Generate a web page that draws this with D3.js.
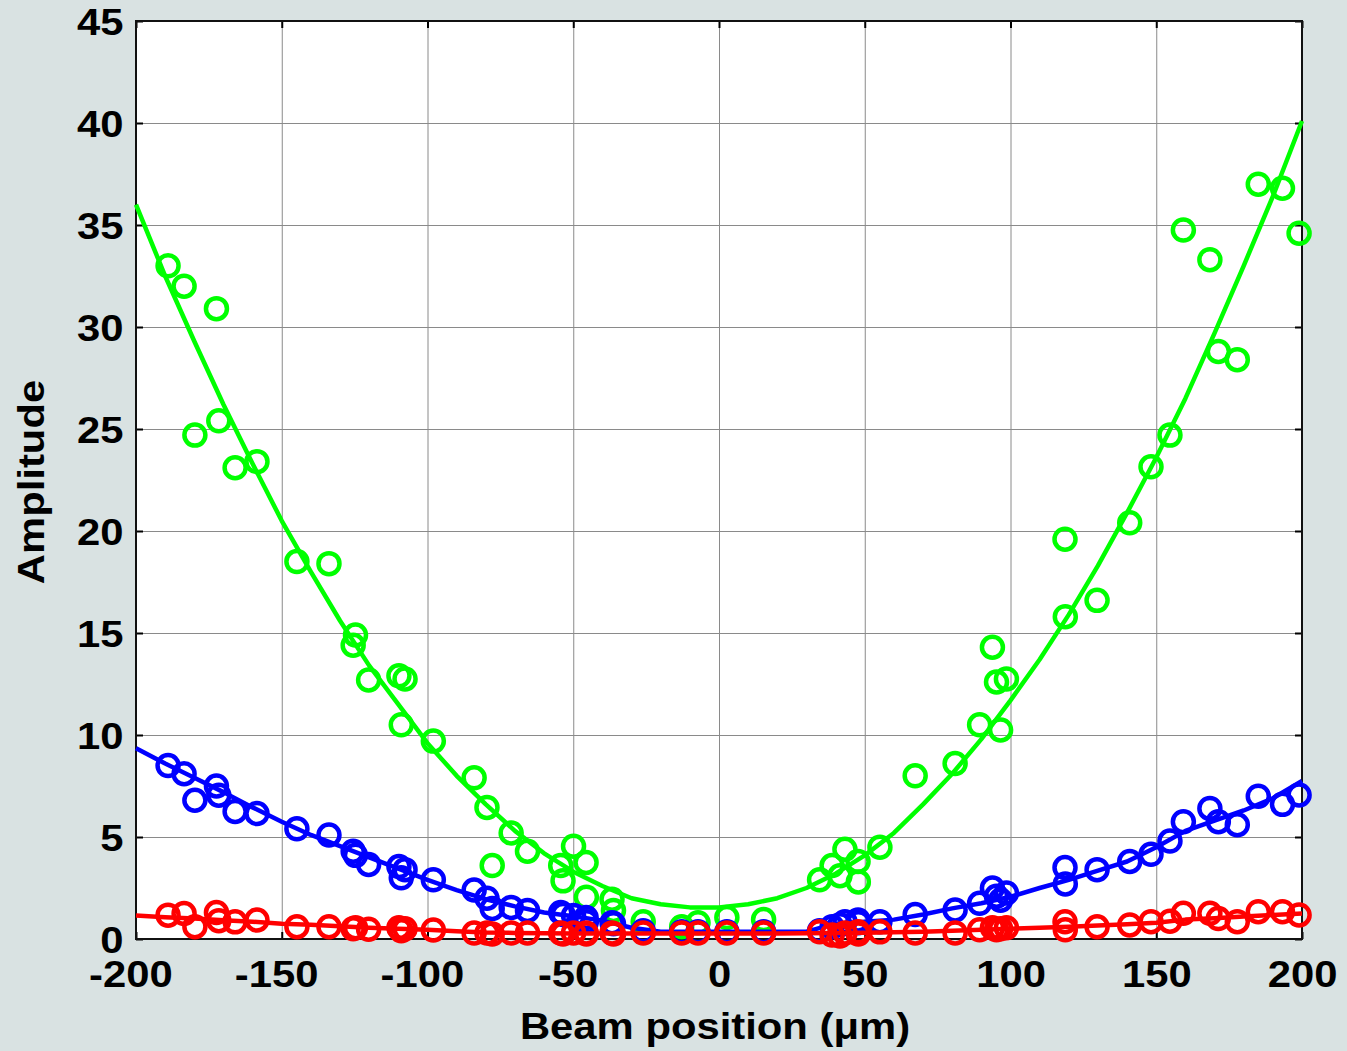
<!DOCTYPE html>
<html>
<head>
<meta charset="utf-8">
<script src="https://cdn.jsdelivr.net/npm/d3@7"></script>
<style>
  html, body { margin: 0; padding: 0; background: #d9e2e2; }
  svg { display: block; }
  text { font-family: "Liberation Sans", Arial, sans-serif; font-weight: bold; fill: #000; }
</style>
</head>
<body>
<svg id="chart" width="1347" height="1051"></svg>
<script>
// Beam positions (µm) shared by the three measured harmonics
const positions = [
  -189.0, -183.5, -179.8, -172.4, -171.6, -166.0, -158.5, -144.8, -133.8, -125.5,
  -124.7, -120.2, -109.8, -107.7, -109.0, -98.0, -84.0, -79.6, -77.8, -71.3,
  -65.7, -54.3, -53.5, -49.9, -45.6, -45.5, -36.7, -36.2, -26.0, -12.8,
  -7.2, 2.7, 15.3, 34.5, 38.8, 43.2, 41.5, 47.7, 47.8, 55.2,
  67.3, 81.0, 89.4, 93.8, 95.2, 96.6, 98.6, 118.7, 118.8, 129.7,
  140.9, 148.2, 154.7, 159.3, 168.4, 171.3, 177.8, 185.0, 193.3, 199.0
];
const greenAmp = [
  33.0, 32.0, 24.7, 30.9, 25.4, 23.1, 23.4, 18.5, 18.4, 14.4,
  14.9, 12.7, 12.9, 12.75, 10.5, 9.7, 7.9, 6.45, 3.6, 5.2,
  4.3, 3.6, 2.85, 4.55, 3.75, 2.05, 1.95, 1.4, 0.85, 0.6,
  0.8, 1.05, 0.95, 2.9, 3.6, 4.4, 3.1, 3.8, 2.8, 4.5,
  8.0, 8.6, 10.5, 14.3, 12.6, 10.25, 12.75, 19.6, 15.8, 16.6,
  20.4, 23.15, 24.7, 34.75, 33.3, 28.8, 28.4, 37.0, 36.8, 34.6
];
const blueAmp = [
  8.5, 8.1, 6.8, 7.5, 7.05, 6.25, 6.15, 5.4, 5.1, 4.3,
  4.1, 3.65, 3.55, 3.4, 3.0, 2.9, 2.4, 2.0, 1.5, 1.55,
  1.4, 1.3, 1.2, 1.15, 1.05, 0.85, 0.8, 0.75, 0.4, 0.35,
  0.35, 0.35, 0.35, 0.4, 0.6, 0.85, 0.7, 0.93, 0.8, 0.85,
  1.2, 1.42, 1.75, 2.5, 2.1, 1.9, 2.25, 3.5, 2.7, 3.4,
  3.8, 4.15, 4.8, 5.75, 6.4, 5.75, 5.6, 7.0, 6.6, 7.06
];
const redAmp = [
  1.17, 1.25, 0.6, 1.3, 0.9, 0.84, 0.93, 0.6, 0.6, 0.5,
  0.55, 0.48, 0.55, 0.5, 0.4, 0.44, 0.29, 0.29, 0.25, 0.3,
  0.3, 0.3, 0.25, 0.3, 0.3, 0.25, 0.3, 0.25, 0.3, 0.3,
  0.3, 0.3, 0.3, 0.36, 0.2, 0.3, 0.15, 0.35, 0.25, 0.35,
  0.3, 0.3, 0.45, 0.55, 0.45, 0.5, 0.55, 0.85, 0.45, 0.6,
  0.69, 0.85, 0.87, 1.26, 1.26, 1.0, 0.85, 1.34, 1.34, 1.18
];

// Fitted curves
const fitX = [
  -200, -190, -180, -170, -160, -150, -140, -130, -120, -110, -100, -90, -80, -70,
  -60, -50, -40, -30, -20, -10, 0, 10, 20, 30, 40, 50, 60, 70, 80, 90,
  100, 110, 120, 130, 140, 150, 160, 170, 180, 190, 200
];
const greenFit = [
  36.0, 32.5, 29.3, 26.2, 23.3, 20.5, 18.0, 15.6, 13.4, 11.5, 9.6, 8.0, 6.6, 5.3,
  4.2, 3.3, 2.6, 2.0, 1.7, 1.55, 1.55, 1.7, 2.0, 2.5, 3.2, 4.1, 5.2, 6.6, 8.1, 9.8,
  11.7, 13.7, 15.9, 18.3, 20.9, 23.6, 26.5, 29.7, 33.0, 36.4, 40.1
];
const blueFit = [
  9.35, 8.6, 7.9, 7.2, 6.45, 5.75, 5.1, 4.55, 4.0, 3.45, 2.9, 2.4, 1.95, 1.6,
  1.3, 1.12, 0.9, 0.55, 0.36, 0.35, 0.35, 0.35, 0.35, 0.36, 0.75, 0.85, 0.95, 1.2, 1.5, 1.75,
  2.07, 2.5, 2.9, 3.35, 3.8, 4.5, 5.3, 5.8, 6.3, 6.9, 7.75
];
const redFit = [
  1.15, 1.07, 1.0, 0.92, 0.85, 0.75, 0.7, 0.62, 0.55, 0.5, 0.45, 0.38, 0.32, 0.3,
  0.28, 0.27, 0.27, 0.27, 0.27, 0.27, 0.27, 0.27, 0.27, 0.28, 0.3, 0.31, 0.33, 0.36, 0.4, 0.45,
  0.5, 0.55, 0.6, 0.66, 0.72, 0.8, 0.95, 1.02, 1.1, 1.18, 1.25
];

const xTicks = [-200, -150, -100, -50, 0, 50, 100, 150, 200];
const yTicks = [0, 5, 10, 15, 20, 25, 30, 35, 40, 45];

const series = [
  { name: "green", color: "#00ff00", amp: greenAmp, fit: greenFit },
  { name: "blue",  color: "#0000ff", amp: blueAmp,  fit: blueFit },
  { name: "red",   color: "#ff0000", amp: redAmp,   fit: redFit }
];

const plot = { left: 136, right: 1302, top: 21, bottom: 939 };
const x = d3.scaleLinear().domain([-200, 200]).range([plot.left, plot.right]);
const y = d3.scaleLinear().domain([0, 45]).range([plot.bottom, plot.top]);

const svg = d3.select("#chart");
const stretch = "scale(1.13,1)";

// plot background
svg.append("rect")
  .attr("x", plot.left).attr("y", plot.top)
  .attr("width", plot.right - plot.left).attr("height", plot.bottom - plot.top)
  .attr("fill", "#fff");

// grid
const grid = svg.append("g").attr("stroke", "#8a8a8a").attr("stroke-width", 1);
grid.selectAll(".gx").data(xTicks).join("line")
  .attr("x1", d => x(d) + 0.5).attr("x2", d => x(d) + 0.5)
  .attr("y1", plot.top).attr("y2", plot.bottom);
grid.selectAll(".gy").data(yTicks).join("line")
  .attr("y1", d => y(d) + 0.5).attr("y2", d => y(d) + 0.5)
  .attr("x1", plot.left).attr("x2", plot.right);

// axes with inward ticks on all four sides; labels use a plain hyphen for negatives
const tickLen = 7;
const fmt = d => String(d);
const xAxisB = svg.append("g").attr("transform", `translate(0,${plot.bottom})`)
  .call(d3.axisBottom(x).tickValues(xTicks).tickSizeInner(-tickLen).tickSizeOuter(0).tickPadding(22).tickFormat(fmt));
const xAxisT = svg.append("g").attr("transform", `translate(0,${plot.top})`)
  .call(d3.axisTop(x).tickValues(xTicks).tickSizeInner(-tickLen).tickSizeOuter(0).tickFormat(""));
const yAxisL = svg.append("g").attr("transform", `translate(${plot.left},0)`)
  .call(d3.axisLeft(y).tickValues(yTicks).tickSizeInner(-tickLen).tickSizeOuter(0).tickPadding(11).tickFormat(fmt));
const yAxisR = svg.append("g").attr("transform", `translate(${plot.right},0)`)
  .call(d3.axisRight(y).tickValues(yTicks).tickSizeInner(-tickLen).tickSizeOuter(0).tickFormat(""));

[xAxisB, xAxisT, yAxisL, yAxisR].forEach(a => {
  a.select(".domain").remove();
  a.selectAll(".tick line").attr("stroke", "#000").attr("stroke-width", 2);
});

xAxisB.selectAll(".tick text")
  .attr("font-size", 37).attr("fill", "#000")
  .attr("dy", "0.71em")
  .attr("x", d => d < 0 ? -5 : 0)
  .attr("transform", stretch);
yAxisL.selectAll(".tick text")
  .attr("font-size", 37).attr("fill", "#000")
  .attr("dy", "0.36em")
  .attr("transform", stretch);
svg.selectAll(".tick text").style("font-family", '"Liberation Sans", Arial, sans-serif').style("font-weight", "bold");

// frame
svg.append("rect")
  .attr("x", plot.left).attr("y", plot.top)
  .attr("width", plot.right - plot.left).attr("height", plot.bottom - plot.top)
  .attr("fill", "none").attr("stroke", "#111").attr("stroke-width", 2);

// axis titles
svg.append("text")
  .attr("transform", `translate(715,1039) ${stretch}`)
  .attr("text-anchor", "middle").attr("font-size", 37)
  .text("Beam position (\u03bcm)");
svg.append("text")
  .attr("transform", `translate(44,482) rotate(-90) ${stretch}`)
  .attr("text-anchor", "middle").attr("font-size", 37)
  .text("Amplitude");

// data: measured points and fitted curves
const line = d3.line().x((d, i) => x(fitX[i])).y(d => y(d));
series.forEach(s => {
  const g = svg.append("g").attr("class", "series-" + s.name);
  g.selectAll("circle").data(s.amp).join("circle")
    .attr("cx", (d, i) => x(positions[i]))
    .attr("cy", d => y(d))
    .attr("r", 10.5)
    .attr("fill", "none")
    .attr("stroke", s.color)
    .attr("stroke-width", 4.5);
  g.append("path")
    .datum(s.fit)
    .attr("d", line)
    .attr("fill", "none")
    .attr("stroke", s.color)
    .attr("stroke-width", 4.5)
    .attr("stroke-linejoin", "round");
});
</script>
</body>
</html>
